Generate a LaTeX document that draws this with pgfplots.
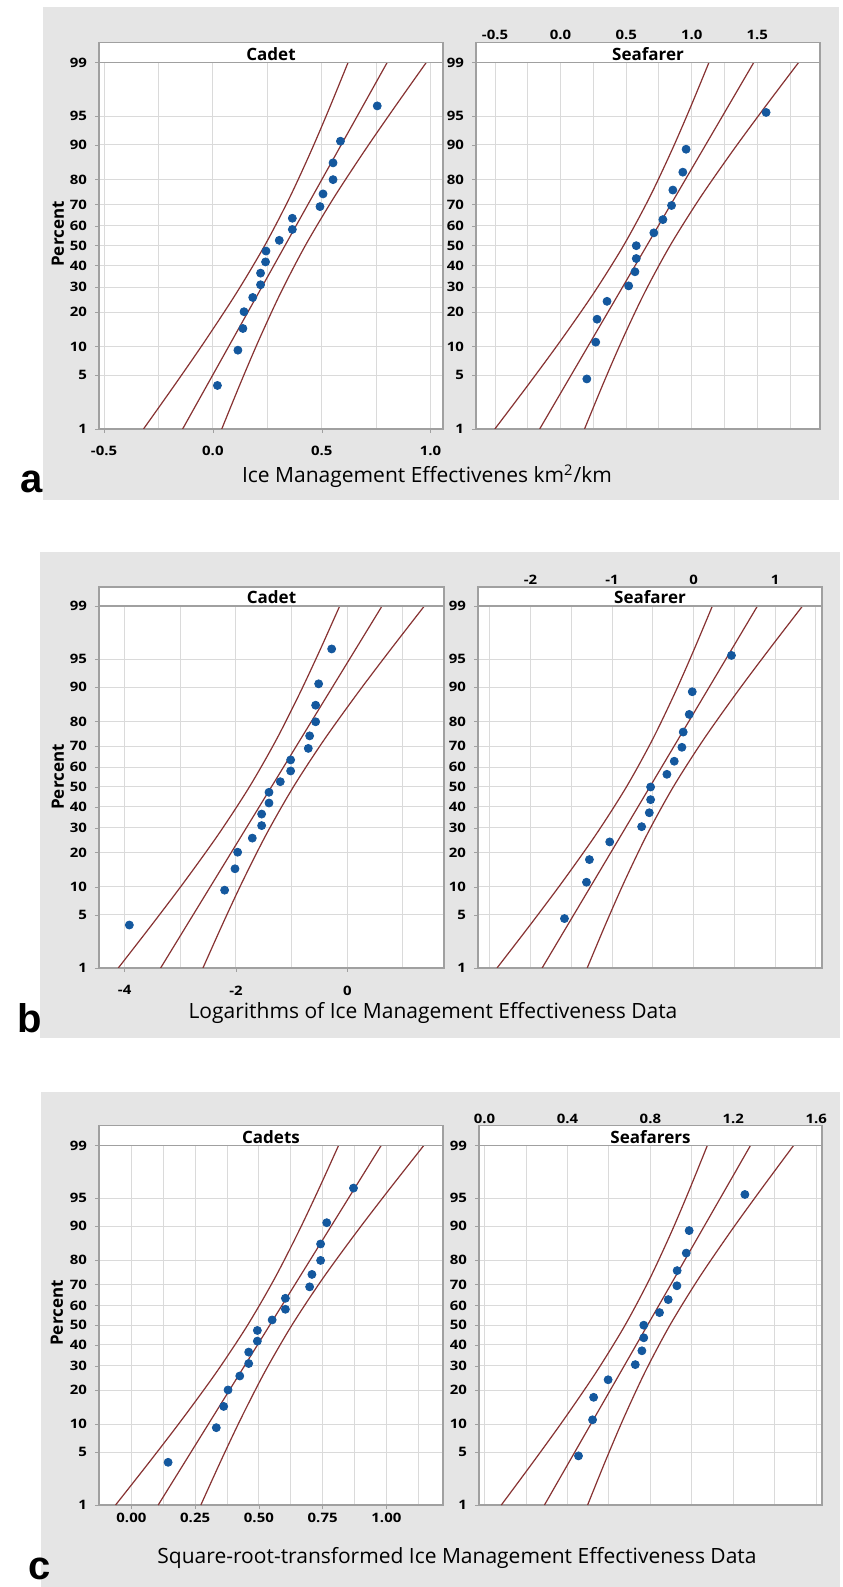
\documentclass[border=0pt]{standalone}
\usepackage{pgfplots}
\pgfplotsset{compat=1.18}
\usepackage{fontspec}
\setmainfont{Open Sans}
\newfontfamily\lettfont{Liberation Sans}

\definecolor{panelgray}{RGB}{229,229,229}
\definecolor{boxgray}{RGB}{160,160,160}
\definecolor{gridgray}{RGB}{218,218,218}
\definecolor{linecol}{RGB}{135,50,50}
\definecolor{ptcol}{RGB}{20,88,158}

\newcommand{\tickfont}{\fontsize{6.5}{7}\selectfont\bfseries}
\newcommand{\titfont}{\fontsize{8.5}{9}\selectfont\bfseries}
\newcommand{\labfont}{\fontsize{10.5}{12}\selectfont}

\pgfplotsset{
  pp/.style={
    scale only axis,
    axis background/.style={fill=white},
    axis line style={draw=boxgray, line width=0.6pt},
    ymin=-2.3263, ymax=2.3263,
    ytick={-2.3263,-1.6449,-1.2816,-0.8416,-0.5244,-0.2533,0,0.2533,0.5244,0.8416,1.2816,1.6449,2.3263},
    yticklabels={1,5,10,20,30,40,50,60,70,80,90,95,99},
    ytick pos=left,
    grid=both,
    major grid style={draw=gridgray, line width=0.5pt},
    minor grid style={draw=gridgray, line width=0.5pt},
    tick align=outside,
    major tick length=2pt, minor tick length=0pt,
    tick style={draw=boxgray},
    ticklabel style={font=\tickfont, xscale=1.15},
  },
  band/.style={draw=linecol, line width=0.6pt, smooth, no markers},
  pts/.style={only marks, mark=*, mark size=2pt, mark options={draw=ptcol, fill=ptcol}},
  bottomx/.style={xtick pos=left, xticklabel pos=left},
  topx/.style={xtick pos=right, xticklabel pos=right,
    xticklabel style={anchor=south, yshift=#1}},
}

\begin{document}
\begin{tikzpicture}
\useasboundingbox (0,0) rectangle (421pt,793.5pt);
\fill[white] (0,0) rectangle (421pt,793.5pt);

% grey panels
\fill[panelgray] (21.5pt,543.5pt) rectangle (419.5pt,790pt);
\fill[panelgray] (20pt,274.5pt) rectangle (420pt,517.5pt);
\fill[panelgray] (20.5pt,0pt) rectangle (420pt,247.5pt);

% ---------------- panel a ----------------
\begin{axis}[pp, bottomx, name=aC,
  at={(49.5pt,579pt)}, anchor=south west, width=172pt, height=183.3pt,
  xmin=-0.523, xmax=1.057,
  xtick={-0.5,0,0.5,1.0}, xticklabels={-0.5,0.0,0.5,1.0},
  minor xtick={-0.25,0.25,0.75},
  xticklabel style={yshift=-3pt}]
  \addplot[band] coordinates {(-0.3186,-2.3263) (-0.1710,-1.75) (-0.0338,-1.2) (0.1084,-0.6) (0.2377,0) (0.3508,0.6) (0.4510,1.2) (0.5360,1.75) (0.6212,2.3263)};
  \addplot[band] coordinates {(-0.1389,-2.3263) (0.8009,2.3263)};
  \addplot[band] coordinates {(0.0408,-2.3263) (0.1260,-1.75) (0.2110,-1.2) (0.3112,-0.6) (0.4243,0) (0.5536,0.6) (0.6958,1.2) (0.8330,1.75) (0.9806,2.3263)};
  \addplot[pts] coordinates {(0.021,-1.774) (0.115,-1.326) (0.138,-1.051) (0.143,-0.838) (0.183,-0.657) (0.219,-0.496) (0.219,-0.348) (0.242,-0.206) (0.244,-0.068) (0.305,0.068) (0.365,0.206) (0.365,0.348) (0.492,0.496) (0.506,0.657) (0.552,0.838) (0.552,1.051) (0.586,1.326) (0.755,1.774)};
\end{axis}
\begin{axis}[pp, topx=6pt, name=aS,
  at={(238pt,579pt)}, anchor=south west, width=172pt, height=183.3pt,
  xmin=-0.645, xmax=1.978,
  xtick={-0.5,0,0.5,1.0,1.5}, xticklabels={-0.5,0.0,0.5,1.0,1.5},
  minor xtick={-0.25,0.25,0.75,1.25,1.75}]
  \addplot[band] coordinates {(-0.5014,-2.3263) (-0.2399,-1.75) (0.0028,-1.2) (0.2534,-0.6) (0.4794,0) (0.6746,0.6) (0.8452,1.2) (0.9887,1.75) (1.1316,2.3263)};
  \addplot[band] coordinates {(-0.1595,-2.3263) (1.4735,2.3263)};
  \addplot[band] coordinates {(0.1824,-2.3263) (0.3253,-1.75) (0.4688,-1.2) (0.6394,-0.6) (0.8346,0) (1.0606,0.6) (1.3112,1.2) (1.5539,1.75) (1.8154,2.3263)};
  \addplot[pts] coordinates {(0.200,-1.691) (0.268,-1.224) (0.278,-0.933) (0.354,-0.706) (0.519,-0.510) (0.567,-0.331) (0.577,-0.163) (0.577,0) (0.711,0.163) (0.780,0.331) (0.846,0.510) (0.856,0.706) (0.932,0.933) (0.957,1.224) (1.567,1.691)};
\end{axis}
\draw[boxgray, line width=0.6pt, fill=white] (aC.north west) rectangle ([yshift=10pt]aC.north east);
\draw[boxgray, line width=0.6pt, fill=white] (aS.north west) rectangle ([yshift=10pt]aS.north east);
\node[font=\titfont, anchor=base, inner sep=0pt] at ([yshift=1pt]aC.north) {Cadet};
\node[font=\titfont, anchor=base, inner sep=0pt] at ([yshift=1pt]aS.north) {Seafarer};
\node[font=\titfont, rotate=90] at (29pt,676.5pt) {Percent};
\node[font=\labfont, anchor=base] at (213.5pt,552pt) {Ice Management Effectivenes km\textsuperscript{2}/km};
\node[font=\lettfont\bfseries\fontsize{20}{20}\selectfont, anchor=base west, inner sep=0pt] at (10pt,547pt) {a};

% ---------------- panel b ----------------
\begin{axis}[pp, bottomx, name=bC,
  at={(49.5pt,309.5pt)}, anchor=south west, width=172.5pt, height=181pt,
  xmin=-4.461, xmax=1.737,
  xtick={-4,-2,0}, xticklabels={-4,-2,0},
  minor xtick={-3,-1,1},
  xticklabel style={yshift=-3.3pt}]
  \addplot[band] coordinates {(-4.1145,-2.3263) (-3.4897,-1.75) (-2.909,-1.2) (-2.307,-0.6) (-1.760,0) (-1.281,0.6) (-0.857,1.2) (-0.4971,1.75) (-0.1365,2.3263)};
  \addplot[band] coordinates {(-3.354,-2.3263) (0.624,2.3263)};
  \addplot[band] coordinates {(-2.5935,-2.3263) (-2.2329,-1.75) (-1.873,-1.2) (-1.449,-0.6) (-0.970,0) (-0.423,0.6) (0.179,1.2) (0.7597,1.75) (1.3845,2.3263)};
  \addplot[pts] coordinates {(-3.916,-1.774) (-2.204,-1.326) (-2.018,-1.051) (-1.970,-0.838) (-1.707,-0.657) (-1.539,-0.496) (-1.539,-0.348) (-1.407,-0.206) (-1.407,-0.068) (-1.204,0.068) (-1.018,0.206) (-1.018,0.348) (-0.701,0.496) (-0.677,0.657) (-0.569,0.838) (-0.569,1.051) (-0.515,1.326) (-0.281,1.774)};
\end{axis}
\begin{axis}[pp, topx=5.3pt, name=bS,
  at={(239pt,309.5pt)}, anchor=south west, width=172pt, height=181pt,
  xmin=-2.645, xmax=1.576,
  xtick={-2,-1,0,1}, xticklabels={-2,-1,0,1},
  minor xtick={-2.5,-1.5,-0.5,0.5,1.5}]
  \addplot[band] coordinates {(-2.4116,-2.3263) (-1.9883,-1.75) (-1.5956,-1.2) (-1.1901,-0.6) (-0.8245,0) (-0.5085,0.6) (-0.2324,1.2) (-0.0003,1.75) (0.2310,2.3263)};
  \addplot[band] coordinates {(-1.8583,-2.3263) (0.7843,2.3263)};
  \addplot[band] coordinates {(-1.3050,-2.3263) (-1.0737,-1.75) (-0.8416,-1.2) (-0.5655,-0.6) (-0.2495,0) (0.1161,0.6) (0.5216,1.2) (0.9143,1.75) (1.3376,2.3263)};
  \addplot[pts] coordinates {(-1.584,-1.691) (-1.314,-1.224) (-1.278,-0.933) (-1.029,-0.706) (-0.637,-0.510) (-0.543,-0.331) (-0.527,-0.163) (-0.527,0) (-0.327,0.163) (-0.237,0.331) (-0.143,0.510) (-0.127,0.706) (-0.053,0.933) (-0.016,1.224) (0.465,1.691)};
\end{axis}
\draw[boxgray, line width=0.6pt, fill=white] (bC.north west) rectangle ([yshift=9.5pt]bC.north east);
\draw[boxgray, line width=0.6pt, fill=white] (bS.north west) rectangle ([yshift=9.5pt]bS.north east);
\node[font=\titfont, anchor=base, inner sep=0pt] at ([yshift=1pt]bC.north) {Cadet};
\node[font=\titfont, anchor=base, inner sep=0pt] at ([yshift=1pt]bS.north) {Seafarer};
\node[font=\titfont, rotate=90] at (29pt,405pt) {Percent};
\node[font=\labfont, anchor=base] at (216.5pt,284pt) {Logarithms of Ice Management Effectiveness Data};
\node[font=\lettfont\bfseries\fontsize{20}{20}\selectfont, anchor=base west, inner sep=0pt] at (8.5pt,277pt) {b};

% ---------------- panel c ----------------
\begin{axis}[pp, bottomx, name=cC,
  at={(49.5pt,41pt)}, anchor=south west, width=172pt, height=179.8pt,
  xmin=-0.127, xmax=1.222,
  xtick={0,0.25,0.5,0.75,1.0}, xticklabels={0.00,0.25,0.50,0.75,1.00},
  minor xtick={0.125,0.375,0.625,0.875,1.125},
  xticklabel style={yshift=1.5pt}]
  \addplot[band] coordinates {(-0.0620,-2.3263) (0.0753,-1.75) (0.2030,-1.2) (0.3354,-0.6) (0.4556,0) (0.5610,0.6) (0.6542,1.2) (0.7333,1.75) (0.8126,2.3263)};
  \addplot[band] coordinates {(0.1052,-2.3263) (0.9798,2.3263)};
  \addplot[band] coordinates {(0.2724,-2.3263) (0.3517,-1.75) (0.4308,-1.2) (0.5240,-0.6) (0.6294,0) (0.7496,0.6) (0.8820,1.2) (1.0097,1.75) (1.1470,2.3263)};
  \addplot[pts] coordinates {(0.144,-1.774) (0.333,-1.326) (0.362,-1.051) (0.379,-0.838) (0.425,-0.657) (0.460,-0.496) (0.460,-0.348) (0.494,-0.206) (0.494,-0.068) (0.552,0.068) (0.604,0.206) (0.604,0.348) (0.699,0.496) (0.708,0.657) (0.742,0.838) (0.742,1.051) (0.766,1.326) (0.871,1.774)};
\end{axis}
\begin{axis}[pp, topx=5.3pt, name=cS,
  at={(239.5pt,41pt)}, anchor=south west, width=171.5pt, height=179.8pt,
  xmin=-0.027, xmax=1.628,
  xtick={0,0.4,0.8,1.2,1.6}, xticklabels={0.0,0.4,0.8,1.2,1.6},
  minor xtick={0.2,0.6,1.0,1.4}]
  \addplot[band] coordinates {(0.0807,-2.3263) (0.2399,-1.75) (0.3878,-1.2) (0.5403,-0.6) (0.6778,0) (0.7967,0.6) (0.9006,1.2) (0.9879,1.75) (1.0749,2.3263)};
  \addplot[band] coordinates {(0.2889,-2.3263) (1.2831,2.3263)};
  \addplot[band] coordinates {(0.4971,-2.3263) (0.5841,-1.75) (0.6714,-1.2) (0.7753,-0.6) (0.8942,0) (1.0317,0.6) (1.1842,1.2) (1.3321,1.75) (1.4913,2.3263)};
  \addplot[pts] coordinates {(0.453,-1.691) (0.521,-1.224) (0.526,-0.933) (0.596,-0.706) (0.727,-0.510) (0.759,-0.331) (0.768,-0.163) (0.768,0) (0.844,0.163) (0.886,0.331) (0.928,0.510) (0.929,0.706) (0.973,0.933) (0.987,1.224) (1.256,1.691)};
\end{axis}
\draw[boxgray, line width=0.6pt, fill=white] (cC.north west) rectangle ([yshift=10pt]cC.north east);
\draw[boxgray, line width=0.6pt, fill=white] (cS.north west) rectangle ([yshift=10pt]cS.north east);
\node[font=\titfont, anchor=base, inner sep=0pt] at ([yshift=1pt]cC.north) {Cadets};
\node[font=\titfont, anchor=base, inner sep=0pt] at ([yshift=1pt]cS.north) {Seafarers};
\node[font=\titfont, rotate=90] at (28.5pt,137pt) {Percent};
\node[font=\labfont, anchor=base] at (228.5pt,12pt) {Square-root-transformed Ice Management Effectiveness Data};
\node[font=\lettfont\bfseries\fontsize{20}{20}\selectfont, anchor=base west, inner sep=0pt] at (14pt,4pt) {c};
\end{tikzpicture}
\end{document}
